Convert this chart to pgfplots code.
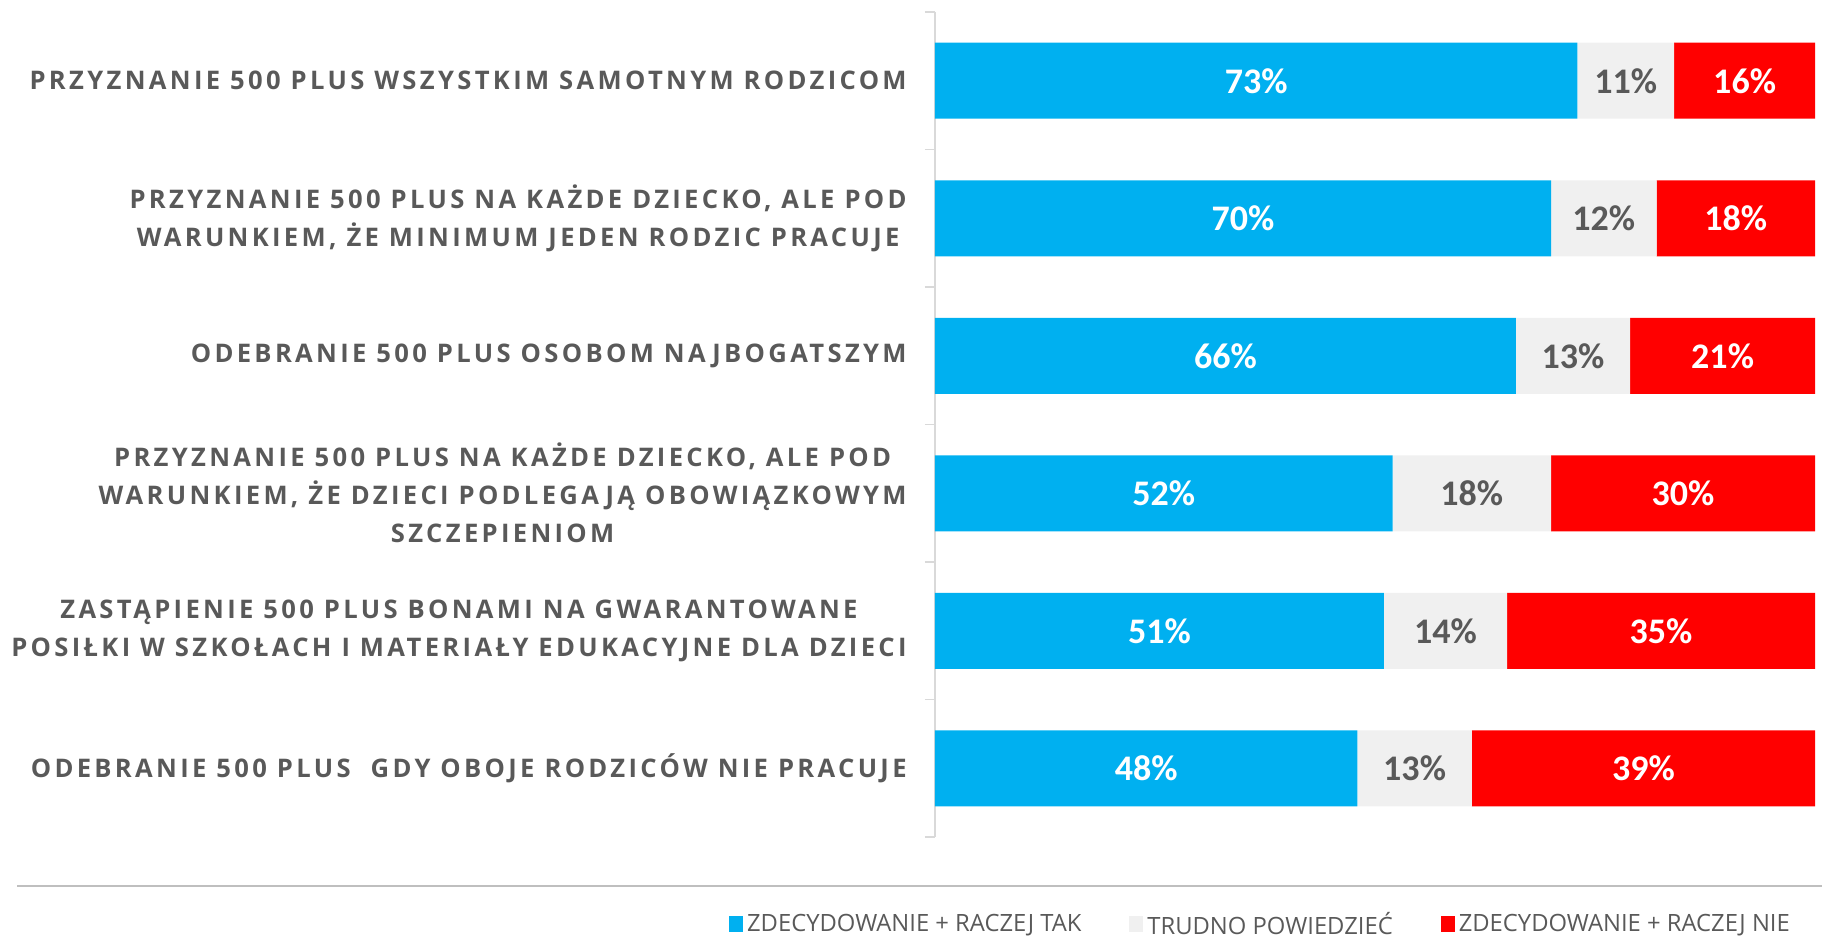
\documentclass[border=0pt]{standalone}
\usepackage{fontspec}
\setmainfont{Open Sans}
\newfontfamily\labfont[LetterSpace=13]{Open Sans}
\newfontfamily\numfont{Carlito}
\usepackage{pgfplots}
\usepackage{pgfplotstable}
\pgfplotsset{compat=1.18}

\definecolor{cblue}{HTML}{00B0F0}
\definecolor{cgray}{HTML}{F0F0F0}
\definecolor{cred}{HTML}{FF0000}
\definecolor{ctext}{HTML}{595959}
\definecolor{caxis}{HTML}{D9D9D9}
\definecolor{csep}{HTML}{BFBFBF}

% tak / trudno powiedziec / nie
\pgfplotstableread{
y a b c
0 73 11 16
1 70 12 18
2 66 13 21
3 52 18 30
4 51 14 35
5 48 13 39
}\data

\pgfplotsset{
  sq legend/.style={legend image code/.code={\fill[##1] (0pt,-4pt) rectangle (7pt,4pt);}},
  common/.style={
    at={(467.5pt,50pt)}, anchor=south west,
    scale only axis, width=440pt, height=412.5pt,
    xmin=0, xmax=100, ymin=-0.5, ymax=5.5, y dir=reverse,
  },
}

\begin{document}
\begin{tikzpicture}
\useasboundingbox (0,0) rectangle (911pt,468.5pt);

\begin{axis}[
  common,
  xbar stacked, bar width=38pt,
  axis x line=none, axis y line*=left,
  y axis line style={caxis, line width=0.8pt},
  ytick={0,...,5},
  yticklabels={
    {PRZYZNANIE 500 PLUS WSZYSTKIM SAMOTNYM RODZICOM},
    {PRZYZNANIE 500 PLUS NA KAŻDE DZIECKO, ALE POD\\WARUNKIEM, ŻE MINIMUM JEDEN RODZIC PRACUJE},
    {ODEBRANIE 500 PLUS OSOBOM NAJBOGATSZYM},
    {PRZYZNANIE 500 PLUS NA KAŻDE DZIECKO, ALE POD\\WARUNKIEM, ŻE DZIECI PODLEGAJĄ OBOWIĄZKOWYM\\SZCZEPIENIOM},
    {ZASTĄPIENIE 500 PLUS BONAMI NA GWARANTOWANE\\POSIŁKI W SZKOŁACH I MATERIAŁY EDUKACYJNE DLA DZIECI},
    {ODEBRANIE 500 PLUS\ \ GDY OBOJE RODZICÓW NIE PRACUJE}
  },
  yticklabel style={font=\labfont\bfseries\fontsize{12.8}{19}\selectfont, text=ctext,
    align=center, inner sep=0pt, xshift=-14pt},
  major tick length=0pt,
  minor ytick={-0.5,0.5,...,5.5},
  minor tick length=5pt, tick align=outside,
  minor tick style={caxis, line width=0.8pt},
  legend columns=3,
  legend style={at={(axis description cs:-0.234,-0.106)}, anchor=west,
    draw=none, fill=none, inner sep=0pt, outer sep=0pt,
    font=\fontsize{11.9}{13}\selectfont, text=ctext,
    nodes={inner xsep=2pt, inner ysep=0pt},
    /tikz/every odd column/.append style={column sep=0pt},
    /tikz/every even column/.append style={column sep=22pt}},
  legend cell align=left,
]
\addplot[fill=cblue, draw=none, sq legend] table[x=a, y=y] {\data};
\addlegendentry{ZDECYDOWANIE + RACZEJ TAK}
\addplot[fill=cgray, draw=none, sq legend] table[x=b, y=y] {\data};
\addlegendentry{TRUDNO POWIEDZIEĆ}
\addplot[fill=cred, draw=none, sq legend] table[x=c, y=y] {\data};
\addlegendentry{ZDECYDOWANIE + RACZEJ NIE}
\end{axis}

% labels centred in each segment
\begin{axis}[
  common, hide axis,
  /pgf/number format/assume math mode=true,
  nodes near coords={\pgfmathprintnumber{\pgfplotspointmeta}\%},
  every node near coord/.append style={anchor=center,
    font=\numfont\bfseries\fontsize{18}{18}\selectfont},
  point meta=explicit,
]
\addplot[draw=none, mark=none, every node near coord/.append style={text=white}]
  table[x expr=\thisrow{a}/2, y=y, meta=a] {\data};
\addplot[draw=none, mark=none, every node near coord/.append style={text=ctext}]
  table[x expr=\thisrow{a}+\thisrow{b}/2, y=y, meta=b] {\data};
\addplot[draw=none, mark=none, every node near coord/.append style={text=white}]
  table[x expr=\thisrow{a}+\thisrow{b}+\thisrow{c}/2, y=y, meta=c] {\data};
\end{axis}

\draw[csep, line width=1pt] (8.5pt,25.5pt) -- (911pt,25.5pt);
\end{tikzpicture}
\end{document}
